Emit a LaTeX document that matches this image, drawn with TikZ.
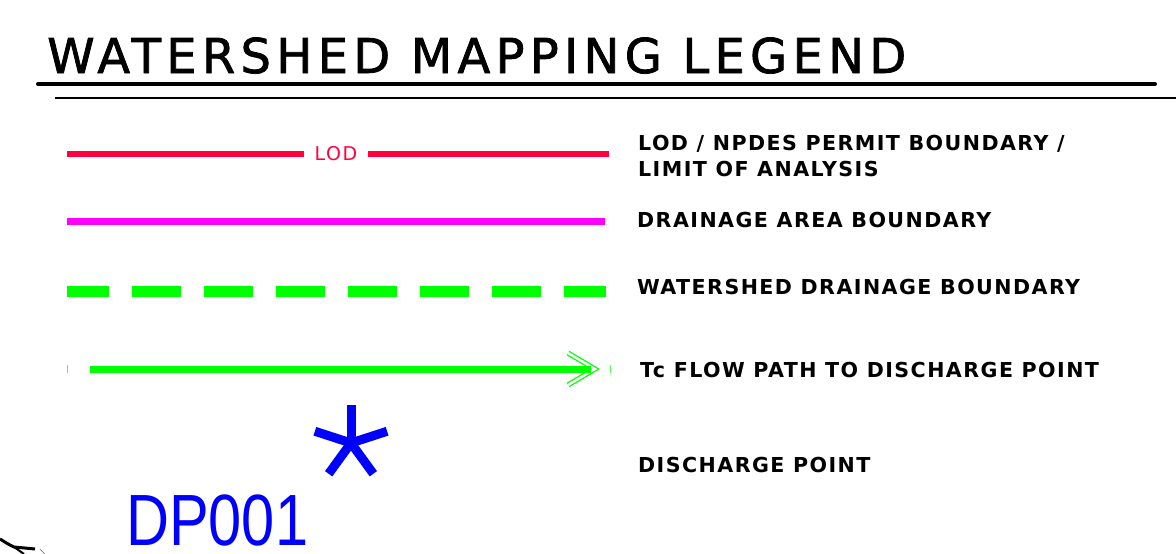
\documentclass[tikz,border=0pt]{standalone}
\usepackage{fontspec}
\usetikzlibrary{arrows.meta, positioning, calc}
\newfontfamily\titlefont{DejaVu Sans}[LetterSpace=11, FakeBold=1.5]
\newfontfamily\legendfont{DejaVu Sans}[LetterSpace=7]
\newfontfamily\lodfont{DejaVu Sans}[LetterSpace=8]
\newfontfamily\dpfont{Liberation Sans}[FakeStretch=0.82]
\definecolor{lodred}{RGB}{255,0,64}
\definecolor{areamagenta}{RGB}{255,0,255}
\definecolor{shedgreen}{RGB}{0,255,0}
\definecolor{dpblue}{RGB}{0,0,255}

\begin{document}
\begin{tikzpicture}[x=1pt, y=-1pt,
    legendtext/.style={anchor=base west, inner sep=0pt, align=left, font=\legendfont\bfseries\fontsize{20.6}{26}\selectfont}]
    \useasboundingbox (0,0) rectangle (1176,554);

    % title and rules
    \node[anchor=base west, inner sep=0pt, font=\titlefont\fontsize{48}{56}\selectfont] (title) at (47,73) {WATERSHED MAPPING LEGEND};
    \coordinate (t1) at (38,84);
    \coordinate (t2) at (1155,84);
    \coordinate (r1) at (55,98);
    \coordinate (r2) at (1176,98);
    \draw[line width=4pt, line cap=round] (t1) -- (t2);
    \draw[line width=1.5pt] (r1) -- (r2);

    % LOD line
    \coordinate (lodL) at (67,154);
    \coordinate (lodR) at (609,154);
    \node[inner sep=0pt, outer sep=11pt, text=lodred, font=\lodfont\fontsize{19}{22}\selectfont] (lod) at (336,154) {LOD};
    \draw[lodred, line width=6pt] (lodL) -- (lod);
    \draw[lodred, line width=6pt] (lod) -- (lodR);

    % drainage area
    \coordinate (areaL) at (67,221);
    \coordinate (areaR) at (605,221);
    \draw[areamagenta, line width=7pt] (areaL) -- (areaR);

    % watershed boundary
    \coordinate (shedL) at (67,291);
    \coordinate (shedR) at (606,291);
    \draw[shedgreen, line width=11pt, dash pattern=on 49pt off 23pt, dash phase=7pt] (shedL) -- (shedR);

    % Tc flow path
    \coordinate (flowL) at (90,369);
    \coordinate (flowTip) at (595,369);
    \coordinate (arrA) at (568,353);
    \coordinate (arrB) at (568,385);
    \draw[shedgreen, line width=1.3pt, double=white, double distance=2.5pt] (arrA) -- (flowTip) -- (arrB);
    \draw[shedgreen, line width=7pt] (flowL) -- (591,369);
    \draw[shedgreen!70, line width=1pt] (67,365) -- ++(0,8);
    \draw[shedgreen!70, line width=1pt] (610,365) -- ++(0,8);

    % discharge point
    \node[inner sep=0pt] (dpstar) at (351,443) {};
    \foreach \a in {-90,-18,-162,54,126}
        \draw[dpblue, line width=9pt] (dpstar.center) -- ++(\a:38);
    \node[anchor=base west, inner sep=0pt, text depth=0pt, text=dpblue, font=\dpfont\fontsize{72.6}{80}\selectfont] (dplabel) at (126,545) {DP001};

    % map scrap at the corner
    \draw[line width=3pt] (0,539) .. controls (8,544) .. (14,547) -- (35,549);
    \draw[line width=2pt] (14,547) -- (24,554);
    \draw[gray, line width=0.7pt] (40,549) -- (45,554);

    % legend texts
    \node[legendtext] (lodtext) at (638,176) {LOD / NPDES PERMIT BOUNDARY /\\LIMIT OF ANALYSIS};
    \node[legendtext] (areatext) at (637,227) {DRAINAGE AREA BOUNDARY};
    \node[legendtext] (shedtext) at (637,294) {WATERSHED DRAINAGE BOUNDARY};
    \node[legendtext] (flowtext) at (640,377) {Tc FLOW PATH TO DISCHARGE POINT};
    \node[legendtext] (dptext) at (638,472) {DISCHARGE POINT};
\end{tikzpicture}
\end{document}
